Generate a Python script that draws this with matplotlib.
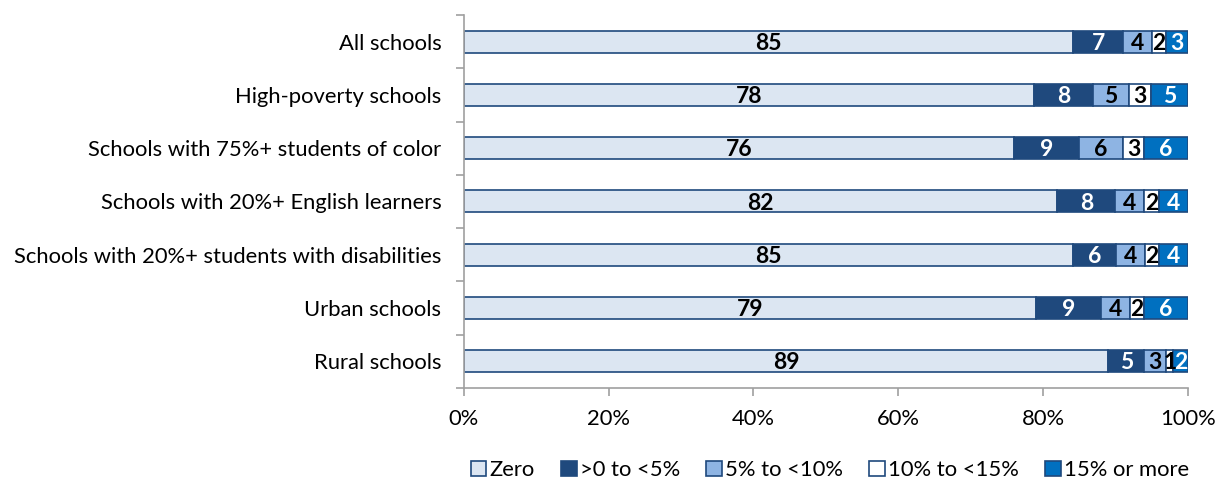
import matplotlib.pyplot as plt
from matplotlib.patches import Patch
import numpy as np

categories = [
    "All schools",
    "High-poverty schools",
    "Schools with 75%+ students of color",
    "Schools with 20%+ English learners",
    "Schools with 20%+ students with disabilities",
    "Urban schools",
    "Rural schools",
]
series_names = ["Zero", ">0 to <5%", "5% to <10%", "10% to <15%", "15% or more"]
zero = [85, 78, 76, 82, 85, 79, 89]
under5 = [7, 8, 9, 8, 6, 9, 5]
five_to_10 = [4, 5, 6, 4, 4, 4, 3]
ten_to_15 = [2, 3, 3, 2, 2, 2, 1]
fifteen_plus = [3, 5, 6, 4, 4, 6, 2]
x_ticks = [0, 20, 40, 60, 80, 100]

series = [zero, under5, five_to_10, ten_to_15, fifteen_plus]
fills = ["#DCE6F2", "#1F497D", "#8EB4E3", "#FFFFFF", "#0070C0"]
text_colors = ["black", "white", "black", "black", "white"]
edge = "#1F497D"

plt.rcParams["font.family"] = ["Lato", "DejaVu Sans"]

fig = plt.figure(figsize=(12.17, 4.83), dpi=100)
ax = fig.add_axes([0.381, 0.197, 0.595, 0.772])

# 100% stacked: each row is scaled so its segments fill the full width
values = np.array(series, dtype=float)
shares = values / values.sum(axis=0) * 100

y = np.arange(len(categories))
left = np.zeros(len(categories))
for vals, share, fc, tc in zip(values, shares, fills, text_colors):
    ax.barh(y, share, left=left, height=0.41, color=fc, edgecolor=edge,
            linewidth=1.2)
    for yi, (l, w, v) in enumerate(zip(left, share, vals)):
        ax.text(l + w / 2, yi + 0.03, f"{int(v)}", ha="center", va="center",
                color=tc, fontsize=16.5, fontweight="bold")
    left += share

ax.set_xlim(0, 100)
ax.set_ylim(6.5, -0.5)
ax.set_yticks(y)
ax.set_yticklabels(categories, fontsize=15.8)
ax.set_yticks(np.arange(-0.5, 7.0, 1.0), minor=True)
ax.tick_params(axis="y", which="major", length=0, pad=16)
ax.tick_params(axis="y", which="minor", length=6, color="#A0A0A0", width=1.2)
ax.set_xticks(x_ticks)
ax.set_xticklabels([f"{t}%" for t in x_ticks], fontsize=15.8)
ax.tick_params(axis="x", length=6, color="#A0A0A0", width=1.2, pad=9)

for s in ["top", "right"]:
    ax.spines[s].set_visible(False)
for s in ["left", "bottom"]:
    ax.spines[s].set_color("#A0A0A0")
    ax.spines[s].set_linewidth(1.2)

handles = [Patch(facecolor=fc, edgecolor=edge, linewidth=1.2) for fc in fills]
fig.legend(handles, series_names, loc="center", bbox_to_anchor=(0.682, 0.027),
           ncol=5, frameon=False, fontsize=15.8, handlelength=0.7,
           handleheight=0.7, handletextpad=0.15, columnspacing=1.2)

fig.savefig("out.png", dpi=100)
